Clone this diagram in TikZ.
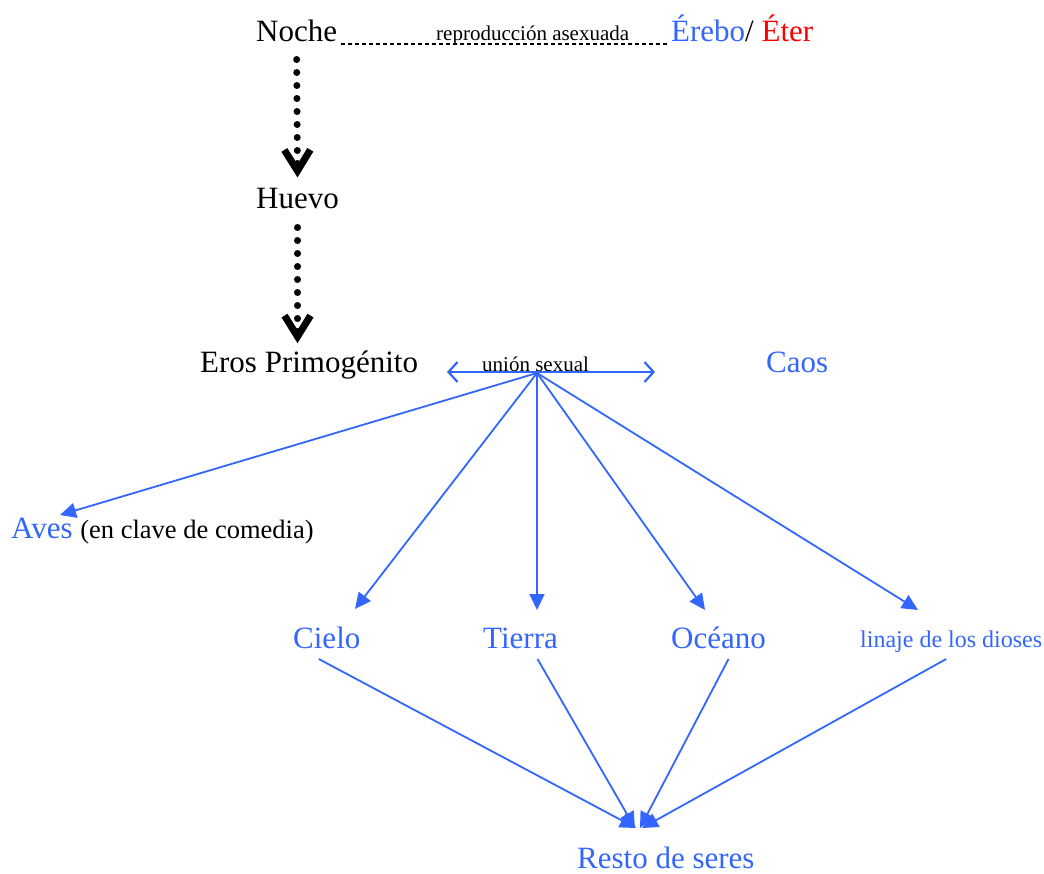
\documentclass[tikz,border=0pt]{standalone}
\usepackage{fontspec}
\setmainfont{Liberation Serif}
\usetikzlibrary{arrows.meta,calc}
\definecolor{myblue}{RGB}{51,102,255}
\definecolor{myred}{RGB}{255,0,0}
\begin{document}
\begin{tikzpicture}[x=1pt,y=-1pt,
  big/.style={inner sep=0pt, anchor=base west, font=\fontsize{31}{36}\selectfont},
  small/.style={inner sep=0pt, anchor=base west, font=\fontsize{21}{25}\selectfont},
  mid/.style={inner sep=0pt, anchor=base west, font=\fontsize{24}{28}\selectfont},
  bl/.style={text=myblue},
  dotarrow/.style={line width=7pt, line cap=round, dash pattern=on 0pt off 13pt,
    -{Straight Barb[length=21pt,width=26pt,line width=7pt]}},
  dashline/.style={line width=1.5pt, dash pattern=on 4pt off 3pt},
  conn/.style={draw=myblue, line width=1.8pt, -{Triangle[length=16pt,width=15pt]}},
  dbl/.style={draw=myblue, line width=2.2pt, {Straight Barb[length=9pt,width=20pt]}-{Straight Barb[length=9pt,width=20pt]}},
]
\useasboundingbox (0,0) rectangle (1044,873);

% nodes
\node[big] (noche) at (256,41) {Noche};
\node[small] (repro) at (436,40) {reproducción asexuada};
\node[big] (erebo) at (671,41) {\textcolor{myblue}{Érebo}/ \textcolor{myred}{Éter}};
\node[big] (huevo) at (256,208) {Huevo};
\node[big] (eros) at (200,372) {Eros Primogénito};
\node[small] (union) at (482,371) {unión sexual};
\node[big,bl] (caos) at (766,372) {Caos};
\node[big] (aves) at (11,538) {\textcolor{myblue}{Aves} {\fontsize{26.5}{30}\selectfont (en clave de comedia)}};
\node[big,bl] (cielo) at (293,648) {Cielo};
\node[big,bl] (tierra) at (483,648) {Tierra};
\node[big,bl] (oceano) at (671,648) {Océano};
\node[mid,bl] (linaje) at (860,647) {linaje de los dioses};
\node[big,bl] (resto) at (577,868) {Resto de seres};

% coordinates
\coordinate (ul) at (447,372);
\coordinate (ur) at (655,372);
\coordinate (hub) at (537,373);
\coordinate (tAves) at (60,515);
\coordinate (tCielo) at (355,609);
\coordinate (tTierra) at (537,610);
\coordinate (tOceano) at (705,610);
\coordinate (tLinaje) at (918,610);
\coordinate (rC) at (636,828);
\coordinate (rT) at (635,828);
\coordinate (rO) at (640,828);
\coordinate (rL) at (642,828);

% black connectors
\draw[dashline] ($(noche.base east)+(4,3)$) -- ($(erebo.base west)+(-3,3)$);
\draw[dotarrow] ($(noche.south)+(0,18)$) -- ($(huevo.north)+(0,-10)$);
\draw[dotarrow] ($(huevo.south)+(0,19)$) -- ($(huevo.south |- eros.north)+(0,-7)$);

% blue connectors
\draw[dbl] (ul) -- (ur);
\draw[conn] (hub) -- (tAves);
\draw[conn] (hub) -- (tCielo);
\draw[conn] (hub) -- (tTierra);
\draw[conn] (hub) -- (tOceano);
\draw[conn] (hub) -- (tLinaje);
\draw[conn] ($(cielo.base)+(-8,11)$) -- (rC);
\draw[conn] ($(tierra.base)+(17,11)$) -- (rT);
\draw[conn] ($(oceano.base)+(10,11)$) -- (rO);
\draw[conn] ($(linaje.base)+(-5,12)$) -- (rL);
\end{tikzpicture}
\end{document}
